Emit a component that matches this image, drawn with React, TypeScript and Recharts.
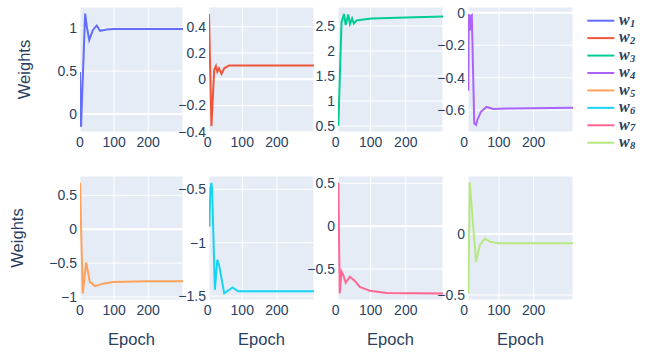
import React from 'react';
import { LineChart, Line, XAxis, YAxis, CartesianGrid, ReferenceLine } from 'recharts';

const seriesNames = ['1', '2', '3', '4', '5', '6', '7', '8'];
const seriesColors = ['#636efa', '#EF553B', '#00cc96', '#ab63fa', '#FFA15A', '#19d3f3', '#FF6692', '#B6E880'];
const xTicks = [0, 100, 200];

const w1Epoch = [0, 3, 15, 20, 27, 38, 49, 59, 78, 98, 302];
const w1Value = [0.49, -0.15, 1.17, 1.02, 0.86, 0.98, 1.03, 0.97, 0.985, 0.99, 0.99];
const w2Epoch = [4, 11, 19, 24, 28, 33, 40, 48, 62, 307];
const w2Value = [0.497, -0.357, 0.07, 0.1, 0.057, 0.083, 0.04, 0.083, 0.105, 0.105];
const w3Epoch = [8, 17, 24, 29, 36, 41, 47, 52, 60, 79, 103, 200, 306];
const w3Value = [0.5, 2.57, 2.74, 2.52, 2.73, 2.54, 2.65, 2.55, 2.61, 2.63, 2.65, 2.67, 2.69];
const w4Epoch = [12, 13, 15, 17, 19, 22, 29, 34, 38, 48, 64, 84, 122, 313];
const w4Value = [-0.48, -0.01, -0.02, -0.11, -0.02, -0.015, -0.68, -0.69, -0.66, -0.61, -0.58, -0.592, -0.59, -0.585];
const w5Epoch = [0, 8, 18, 29, 44, 70, 97, 200, 302];
const w5Value = [0.69, -0.95, -0.49, -0.78, -0.84, -0.8, -0.78, -0.77, -0.77];
const w6Epoch = [5, 8, 11, 13, 21, 28, 33, 48, 72, 88, 307];
const w6Value = [-0.85, -0.49, -0.44, -0.5, -1.44, -1.16, -1.21, -1.475, -1.42, -1.455, -1.455];
const w7Epoch = [8, 12, 17, 22, 29, 41, 55, 69, 98, 146, 306];
const w7Value = [0.507, -0.786, -0.53, -0.57, -0.66, -0.59, -0.64, -0.71, -0.755, -0.78, -0.786];
const w8Epoch = [12, 16, 34, 45, 60, 74, 98, 313];
const w8Value = [-0.486, 0.424, -0.227, -0.09, -0.038, -0.063, -0.076, -0.076];

const epochLists = [w1Epoch, w2Epoch, w3Epoch, w4Epoch, w5Epoch, w6Epoch, w7Epoch, w8Epoch];
const valueLists = [w1Value, w2Value, w3Value, w4Value, w5Value, w6Value, w7Value, w8Value];

const xRanges = [[0, 302], [4, 307], [7, 306], [11, 313]];
const yRanges = [
  [-0.21, 1.247], [-0.402, 0.55], [0.38, 2.88], [-0.734, 0.035],
  [-1.045, 0.785], [-1.537, -0.375], [-0.862, 0.585], [-0.541, 0.475],
];
const yTickLists = [
  [0, 0.5, 1], [-0.4, -0.2, 0, 0.2, 0.4], [0.5, 1, 1.5, 2, 2.5], [-0.6, -0.4, -0.2, 0],
  [-1, -0.5, 0, 0.5], [-1.5, -1, -0.5], [-0.5, 0, 0.5], [-0.5, 0],
];

const colLeft = [80, 209, 338, 468];
const colWidth = [103, 105, 105, 105];
const rowTop = [7, 176];
const rowHeight = [125, 124];

const FONT = '"Liberation Sans", Arial, sans-serif';
const TEXT = '#2a3f5f';
const fmt = (v: number) => String(v).replace('-', '\u2212');

const AX_W = 45;
const M_TOP = 10;
const X_H = 24;

function Panel({ idx }: { idx: number }) {
  const col = idx % 4;
  const row = Math.floor(idx / 4);
  const data = epochLists[idx].map((x, i) => ({ x, y: valueLists[idx][i] }));
  const W = colWidth[col];
  const H = rowHeight[row];
  const yr = yRanges[idx];
  const showZero = yr[0] < 0 && yr[1] > 0;
  return (
    <div style={{ position: 'absolute', left: colLeft[col] - AX_W, top: rowTop[row] - M_TOP }}>
      <LineChart
        width={W + AX_W + 6}
        height={H + M_TOP + X_H}
        data={data}
        margin={{ top: M_TOP, right: 6, bottom: 0, left: 0 }}
      >
        <CartesianGrid fill="#E5ECF6" fillOpacity={1} stroke="#ffffff" strokeWidth={1} />
        <XAxis
          dataKey="x"
          type="number"
          domain={xRanges[col]}
          ticks={xTicks}
          allowDataOverflow
          interval={0}
          axisLine={false}
          tickLine={false}
          tickSize={0}
          tickMargin={5}
          height={X_H}
          tickFormatter={fmt}
          tick={{ fontSize: 14, fill: TEXT, fontFamily: FONT }}
        />
        <YAxis
          type="number"
          domain={yr}
          ticks={yTickLists[idx]}
          allowDataOverflow
          interval={0}
          axisLine={false}
          tickLine={false}
          tickSize={0}
          tickMargin={3}
          width={AX_W}
          tickFormatter={fmt}
          tick={{ fontSize: 14, fill: TEXT, fontFamily: FONT }}
        />
        {showZero && <ReferenceLine y={0} stroke="#ffffff" strokeWidth={2} />}
        <Line
          type="linear"
          dataKey="y"
          stroke={seriesColors[idx]}
          strokeWidth={2}
          dot={false}
          isAnimationActive={false}
        />
      </LineChart>
    </div>
  );
}

export default function App() {
  const legendTop = 20.7;
  const legendStep = 17.43;
  return (
    <div style={{ position: 'absolute', left: 0, top: 0, width: 651, height: 353, background: '#fff', overflow: 'hidden' }}>
      {seriesNames.map((_, i) => (
        <Panel key={i} idx={i} />
      ))}
      <svg width={651} height={353} style={{ position: 'absolute', left: 0, top: 0, pointerEvents: 'none' }}>
        <text x={30} y={69.5} transform="rotate(-90 30 69.5)" textAnchor="middle" fontFamily={FONT} fontSize={16.5} fill={TEXT}>Weights</text>
        <text x={23.2} y={238} transform="rotate(-90 23.2 238)" textAnchor="middle" fontFamily={FONT} fontSize={16.5} fill={TEXT}>Weights</text>
        {colLeft.map((l, c) => (
          <text key={c} x={l + colWidth[c] / 2} y={344.5} textAnchor="middle" fontFamily={FONT} fontSize={16.5} fill={TEXT}>Epoch</text>
        ))}
        {seriesNames.map((n, i) => {
          const cy = legendTop + i * legendStep;
          return (
            <g key={n}>
              <line x1={587.3} x2={614.3} y1={cy} y2={cy} stroke={seriesColors[i]} strokeWidth={2} />
              <text x={619} y={cy + 4.3} fontFamily='"Liberation Serif", "DejaVu Serif", serif' fontStyle="italic" fontWeight="bold" fontSize={16} fill={TEXT}>
                w<tspan fontSize={10.5} dy={1.8} dx={0.3}>{n}</tspan>
              </text>
            </g>
          );
        })}
      </svg>
    </div>
  );
}
